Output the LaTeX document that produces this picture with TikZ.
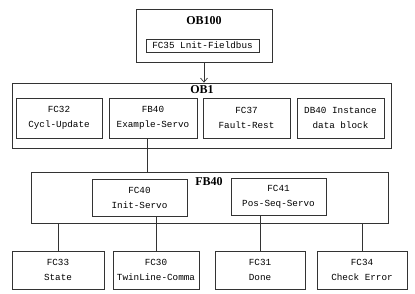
\documentclass[tikz,border=0pt]{standalone}
\usepackage{fontspec}
\setmonofont{Liberation Mono}
\newfontfamily\titlefont{Liberation Serif}
\usetikzlibrary{arrows.meta, positioning}
\tikzset{
    box/.style={
        draw,
        minimum width=86pt,
        minimum height=40pt,
        inner sep=1pt,
        align=center,
        font=\ttfamily\fontsize{9.3}{15}\selectfont
    },
    frame/.style={
        draw,
        inner sep=0pt
    },
    title/.style={font=\titlefont\bfseries\fontsize{12}{12}\selectfont, inner sep=0pt},
    line/.style={draw=black!80, line width=0.8pt},
    arrowline/.style={-{Straight Barb[length=4pt, width=7pt]}, draw=black!80, line width=0.7pt},
    every node/.style={draw=black!80, line width=0.8pt}
}

\begin{document}
\begin{tikzpicture}[x=1pt, y=-1pt]
\useasboundingbox (0,0) rectangle (415,294);

% OB100
\node[frame, minimum width=136pt, minimum height=53pt] (obhundred) at (204,35.5) {};
\node[title, draw=none] (obhundredtitle) at (204,21) {OB100};
\node[box, minimum width=113pt, minimum height=13pt, inner sep=0pt] (fcthirtyfive) at (202.5,45.5) {FC35 Lnit-Fieldbus};

% OB1
\node[frame, minimum width=379pt, minimum height=65pt] (obone) at (201.5,115.5) {};
\node[title, draw=none] (obonetitle) at (202,89.5) {OB1};
\node[box] (fcthirtytwo) at (59,118) {FC32\\Cycl-Update};
\node[box, minimum width=88pt] (fbforty) at (153,118) {FB40\\Example-Servo};
\node[box, minimum width=87pt] (fcthirtyseven) at (246.5,118) {FC37\\Fault-Rest};
\node[box, minimum width=87pt] (dbforty) at (340.5,118) {DB40 Instance\\data block};

% FB40
\node[frame, minimum width=357pt, minimum height=51pt] (fbfortybig) at (209.5,197.5) {};
\node[title, draw=none] (fbfortytitle) at (209,181.5) {FB40};
\node[box, minimum width=95pt, minimum height=37pt] (fcforty) at (139.5,197.5) {FC40\\Init-Servo};
\node[box, minimum width=95pt, minimum height=37pt] (fcfortyone) at (278.5,196.5) {FC41\\Pos-Seq-Servo};

% bottom row
\node[box, minimum width=92pt, minimum height=38pt] (fcthirtythree) at (58,270) {FC33\\State};
\node[box, minimum height=38pt] (fcthirty) at (156,270) {FC30\\TwinLine-Comma};
\node[box, minimum width=90pt, minimum height=38pt] (fcthirtyone) at (260,270) {FC31\\Done};
\node[box, minimum width=90pt, minimum height=38pt] (fcthirtyfour) at (362,270) {FC34\\Check Error};

% connectors
\draw[arrowline] (obhundred.south) -- (obhundred.south |- obone.north);
\draw[line] ([xshift=-6pt]fbforty.south) -- ([xshift=-6pt]fbforty.south |- fbfortybig.north);
\draw[line] (fcthirtythree.north |- fbfortybig.south) -- (fcthirtythree.north);
\draw[line] (fcthirty.north |- fcforty.south) -- (fcthirty.north);
\draw[line] (fcthirtyone.north |- fcfortyone.south) -- (fcthirtyone.north);
\draw[line] (fcthirtyfour.north |- fbfortybig.south) -- (fcthirtyfour.north);
\end{tikzpicture}
\end{document}
